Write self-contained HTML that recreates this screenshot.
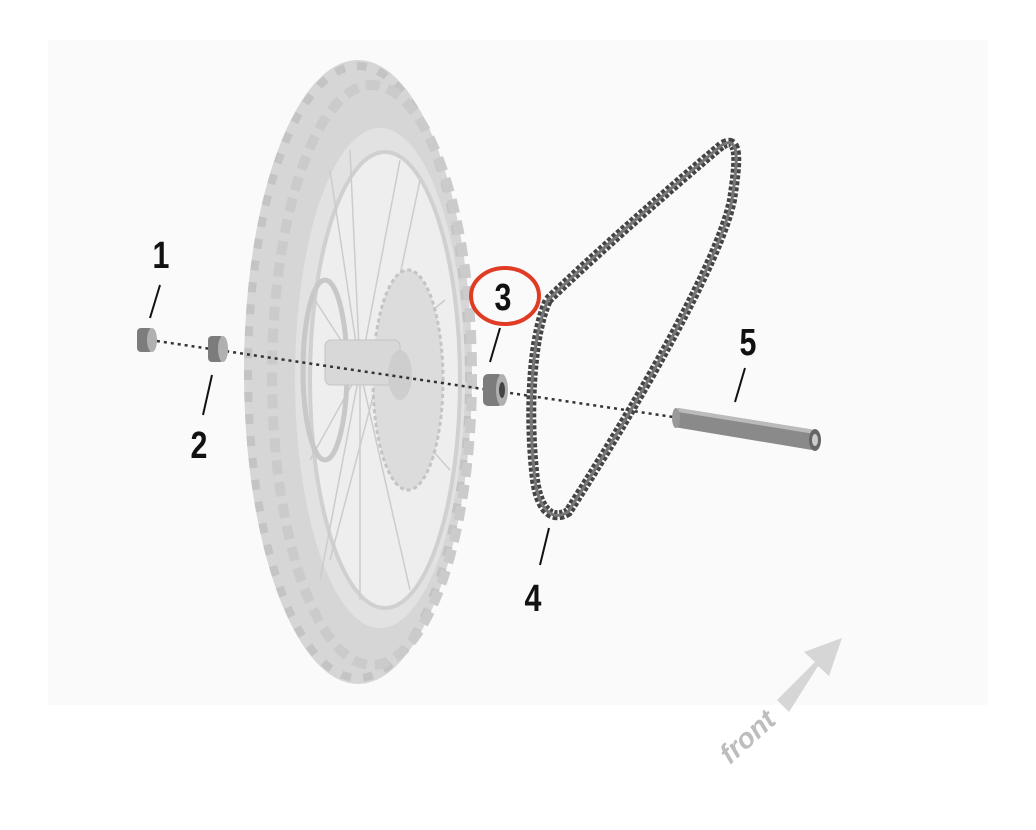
<!DOCTYPE html>
<html><head><style>html,body{margin:0;padding:0;background:#fff}svg{display:block}</style></head>
<body>
<svg width="1036" height="830" viewBox="0 0 1036 830" xmlns="http://www.w3.org/2000/svg">
<rect x="0" y="0" width="1036" height="830" fill="#fff"/>
<rect x="48" y="40" width="940" height="665" fill="#fafafa"/>
<!-- tire -->
<ellipse cx="358" cy="372" rx="114" ry="312" fill="#d6d6d6"/>
<ellipse cx="358" cy="372" rx="110" ry="306" fill="none" stroke="#c4c4c4" stroke-width="8" stroke-dasharray="10 12"/>
<ellipse cx="372" cy="375" rx="100" ry="290" fill="none" stroke="#cbcbcb" stroke-width="10" stroke-dasharray="14 8"/>
<ellipse cx="380" cy="378" rx="85" ry="250" fill="#e2e2e2"/>
<ellipse cx="385" cy="380" rx="75" ry="228" fill="#eeeeee" stroke="#d0d0d0" stroke-width="4"/>
<!-- spokes -->
<g stroke="#cccccc" stroke-width="1.5">
<line x1="360" y1="370" x2="330" y2="170"/><line x1="360" y1="370" x2="400" y2="160"/>
<line x1="360" y1="370" x2="320" y2="580"/><line x1="360" y1="370" x2="410" y2="590"/>
<line x1="360" y1="370" x2="315" y2="300"/><line x1="360" y1="370" x2="445" y2="300"/>
<line x1="360" y1="370" x2="310" y2="460"/><line x1="360" y1="370" x2="450" y2="470"/>
<line x1="360" y1="370" x2="350" y2="150"/><line x1="360" y1="370" x2="360" y2="600"/>
<line x1="380" y1="370" x2="420" y2="180"/><line x1="380" y1="370" x2="330" y2="560"/>
</g>
<ellipse cx="408" cy="380" rx="35" ry="110" fill="#dcdcdc" stroke="#c4c4c4" stroke-width="3" stroke-dasharray="4 3"/>
<ellipse cx="325" cy="370" rx="22" ry="90" fill="none" stroke="#c8c8c8" stroke-width="5"/>
<rect x="325" y="340" width="75" height="45" rx="6" fill="#d8d8d8" stroke="#c4c4c4"/>
<ellipse cx="400" cy="375" rx="12" ry="25" fill="#cecece"/>
<!-- dotted axis -->
<line x1="150" y1="340" x2="680" y2="418" stroke="#333" stroke-width="2.5" stroke-dasharray="3 4"/>
<!-- parts 1,2,3 -->
<rect x="137" y="328" width="16" height="24" rx="4" fill="#7c7c7c"/><ellipse cx="152" cy="340" rx="5" ry="12" fill="#b0b0b0"/>
<rect x="208" y="336" width="16" height="26" rx="4" fill="#7c7c7c"/><ellipse cx="223" cy="349" rx="5" ry="13" fill="#b0b0b0"/>
<rect x="483" y="374" width="20" height="32" rx="5" fill="#7c7c7c"/><ellipse cx="502" cy="390" rx="6" ry="16" fill="#b0b0b0"/><ellipse cx="502" cy="390" rx="3" ry="8" fill="#444"/>
<!-- chain -->
<path d="M548 300 C 600 250, 680 180, 722 145 C 740 135, 738 160, 732 200 C 720 260, 640 400, 568 512 C 555 520, 540 515, 535 480 C 528 420, 530 340, 548 300 Z" fill="none" stroke="#444" stroke-width="10" stroke-dasharray="4 2"/>
<path d="M548 300 C 600 250, 680 180, 722 145 C 740 135, 738 160, 732 200 C 720 260, 640 400, 568 512 C 555 520, 540 515, 535 480 C 528 420, 530 340, 548 300 Z" fill="none" stroke="#777" stroke-width="3"/>
<!-- axle -->
<path d="M678 408 L815 430 L812 450 L674 427 Z" fill="#8a8a8a"/>
<path d="M678 410 L815 432" stroke="#bbb" stroke-width="4"/>
<ellipse cx="676" cy="418" rx="4" ry="10" fill="#999"/>
<ellipse cx="815" cy="440" rx="6" ry="11" fill="#666"/><ellipse cx="815" cy="440" rx="3" ry="6" fill="#ccc"/>
<!-- leader lines -->
<g stroke="#111" stroke-width="2">
<line x1="160" y1="285" x2="150" y2="318"/>
<line x1="212" y1="375" x2="203" y2="415"/>
<line x1="500" y1="328" x2="490" y2="362"/>
<line x1="549" y1="528" x2="540" y2="565"/>
<line x1="745" y1="368" x2="735" y2="402"/>
</g>
<g font-family="Liberation Sans, sans-serif" font-size="38" font-weight="bold" fill="#111" text-anchor="middle">
<text transform="translate(161 268) scale(0.8 1)">1</text>
<text transform="translate(199 458) scale(0.8 1)">2</text>
<text transform="translate(503 310) scale(0.8 1)">3</text>
<text transform="translate(533 611) scale(0.8 1)">4</text>
<text transform="translate(748 355) scale(0.8 1)">5</text>
</g>
<ellipse cx="505" cy="296" rx="34" ry="28" fill="none" stroke="#e03b24" stroke-width="4"/>
<!-- front arrow -->
<path d="M777 700 L815 662 L804 652 L842 638 L829 676 L818 666 L789 712 Z" fill="#d6d6d6"/>
<text x="0" y="0" font-family="Liberation Sans, sans-serif" font-size="28" font-style="italic" font-weight="bold" fill="#bdbdbd" transform="translate(730 765) rotate(-42)">front</text>
</svg>
</body></html>
